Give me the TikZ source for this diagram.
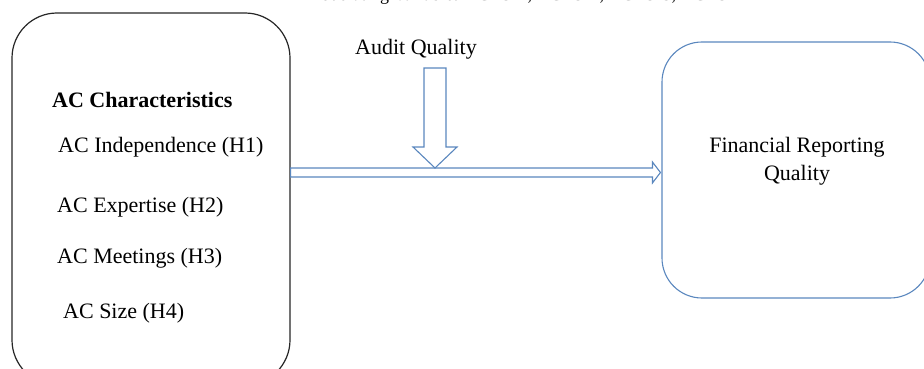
\documentclass[tikz,border=0pt]{standalone}
\usepackage{fontspec}
\setmainfont{Liberation Serif}
\usetikzlibrary{calc}
\definecolor{ablue}{HTML}{5A87BE}
\begin{document}
\begin{tikzpicture}[x=1pt,y=-1pt,
  lbl/.style={anchor=base west, inner sep=0pt, font=\fontsize{22}{26}\selectfont},
  blk/.style={draw=ablue, line width=1.1pt, fill=white, line join=miter}]
\useasboundingbox (0,0) rectangle (924,369);
% top (cropped) text
\node[anchor=base west, inner sep=0pt, font=\fontsize{18}{20}\selectfont] (mod) at (305,1) {Moderating Variable: ACFO-1, ACFO-2, ACFO-3, ACFO-4};
% left box
\node[draw=black!85, line width=1.2pt, rounded corners=45pt, minimum width=278pt, minimum height=372pt, inner sep=0pt] (left) at (151,199) {};
\node[lbl, font=\fontsize{22}{26}\selectfont\bfseries] (t0) at (52,107) {AC Characteristics};
\node[lbl] (t1) at (58,152) {AC Independence (H1)};
\node[lbl] (t2) at (57,212) {AC Expertise (H2)};
\node[lbl] (t3) at (57,263) {AC Meetings (H3)};
\node[lbl] (t4) at (63,318) {AC Size (H4)};
% right box
\node[draw=ablue, line width=1.1pt, rounded corners=40pt, minimum width=268pt, minimum height=256pt, inner sep=0pt] (right) at (796,170) {};
\node[anchor=base, inner sep=0pt, font=\fontsize{22}{26}\selectfont] (fr1) at (797,152) {Financial Reporting};
\node[anchor=base, inner sep=0pt, font=\fontsize{22}{26}\selectfont] (fr2) at (797,180) {Quality};
% audit quality
\node[anchor=base, inner sep=0pt, font=\fontsize{22}{26}\selectfont] (aq) at (416,55) {Audit Quality};
% horizontal block arrow
\draw[blk] ($(left.east)+(0,-31)$) -- ($(right.west)+(-9,-2)$) -- ($(right.west)+(-9,-8)$)
  -- ($(right.west)+(-1,2.5)$) -- ($(right.west)+(-9,13)$) -- ($(right.west)+(-9,7)$)
  -- ($(left.east)+(0,-22)$) -- cycle;
% vertical block arrow
\coordinate (vtop) at ($(aq.base)+(19,13)$);
\draw[blk] ($(vtop)+(-11,0)$) -- ($(vtop)+(11,0)$) -- ($(vtop)+(11,79)$) -- ($(vtop)+(22,79)$)
  -- ($(vtop)+(0,100)$) -- ($(vtop)+(-22,79)$) -- ($(vtop)+(-11,79)$) -- cycle;
\end{tikzpicture}
\end{document}
